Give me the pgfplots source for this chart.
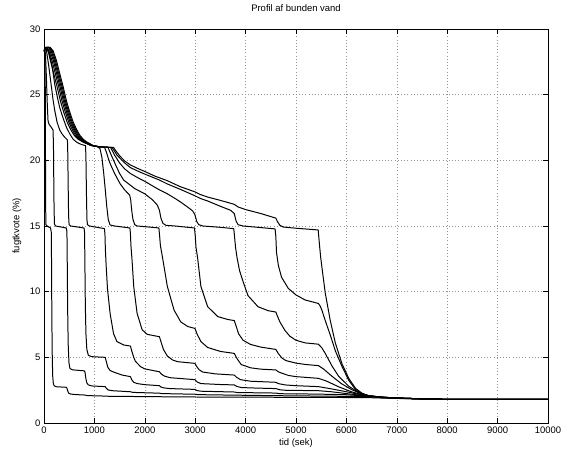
\documentclass[border=0pt]{standalone}
\usepackage{fontspec}
\setmainfont{Liberation Sans}
\usepackage{pgfplots}
\pgfplotsset{compat=1.18}
\pgfplotsset{curve/.style={black, solid, line width=1pt, line join=round, mark=none}}
\begin{document}
\begin{tikzpicture}
\path[use as bounding box] (-44bp,-29bp) rectangle (519bp,423bp);
\begin{axis}[
 at={(0,0)}, anchor=south west,
 scale only axis, width=504bp, height=394bp,
 xmin=0,xmax=10000,ymin=0,ymax=30,
 xtick={0,1000,...,10000}, ytick={0,5,...,30},
 scaled ticks=false,
 /pgf/number format/assume math mode=true,
 /pgf/number format/set thousands separator={},
 tick align=inside, xtick pos=both, ytick pos=both,
 major tick length=5bp,
 grid=major,
 major grid style={line width=0.6pt, gray!85, dash pattern=on 0.8pt off 2.4pt},
 axis line style={line width=0.8pt},
 every tick/.style={black, line width=0.6pt},
 title={Profil af bunden vand},
 title style={at={(axis description cs:0.5,1.038)}, anchor=center, font=\fontsize{9.5}{11}\selectfont},
 xlabel={tid (sek)}, ylabel={fugtkvote (\%)},
 xlabel style={at={(axis description cs:0.5,-0.0508)}, anchor=center, font=\fontsize{9.5}{11}\selectfont},
 ylabel style={at={(axis description cs:-0.0536,0.5)}, anchor=center, font=\fontsize{9.5}{11}\selectfont},
 tick label style={font=\fontsize{9.5}{11}\selectfont},
]
% c0
\addplot[curve] coordinates {(0,28.3)(12,28.5)(20,28.2)(25,25.5)(29,21)(33,16.5)(38,15.1)(60,15.0)(130,14.85)(145,14.5)(150,12)(155,8.5)(162,5.5)(172,3.6)(185,3.0)(205,2.82)(250,2.76)(440,2.72)(455,2.65)(470,2.45)(490,2.27)(530,2.2)(650,2.16)(810,2.13)(850,2.09)(1000,2.07)(1215,2.05)(1300,2.03)(1715,2.02)(2290,2.0)(2995,1.98)(3775,1.97)(4600,1.96)(5445,1.95)(6000,1.94)(6450,1.93)(6700,1.9)(7000,1.87)(7500,1.83)(8000,1.8)(10000,1.8)};
% c1
\addplot[curve] coordinates {(0,28.3)(15,28.5)(30,28.0)(46,26.5)(56,25.3)(66,24.2)(80,23.0)(100,22.75)(147,22.5)(180,22.3)(188,21)(194,18.5)(200,16.2)(208,15.15)(230,15.0)(440,14.85)(455,14.6)(462,12)(470,8.5)(480,6)(495,4.6)(515,4.15)(560,4.05)(800,3.97)(815,3.85)(830,3.4)(850,3.05)(880,2.9)(950,2.82)(1215,2.77)(1235,2.65)(1270,2.52)(1350,2.46)(1715,2.38)(1760,2.33)(2290,2.27)(2340,2.24)(2995,2.19)(3050,2.16)(3775,2.12)(4600,2.08)(5445,2.05)(6000,2.03)(6450,2.0)(6700,1.93)(7000,1.88)(7500,1.83)(8000,1.8)(10000,1.8)};
% c2
\addplot[curve] coordinates {(0,28.3)(20,28.5)(45,28.45)(90,27.3)(147,25.6)(180,24.6)(213,23.8)(260,22.9)(313,22.3)(360,22.0)(413,21.75)(465,21.55)(472,20.5)(480,18)(488,15.8)(498,15.1)(530,15.0)(795,14.85)(805,14.5)(812,12)(820,9)(832,6.8)(850,5.6)(880,5.15)(950,5.05)(1215,5.0)(1235,4.7)(1265,4.25)(1310,4.0)(1380,3.88)(1550,3.65)(1715,3.53)(1740,3.3)(1780,3.1)(1850,3.0)(2000,2.92)(2290,2.84)(2320,2.74)(2380,2.67)(2500,2.62)(2995,2.56)(3030,2.48)(3110,2.42)(3775,2.36)(3830,2.32)(4600,2.28)(4680,2.23)(5445,2.2)(6000,2.15)(6450,2.04)(6700,1.95)(7000,1.89)(7500,1.83)(8000,1.8)(10000,1.8)};
% c3
\addplot[curve] coordinates {(0,28.3)(25,28.55)(60,28.55)(100,28.2)(160,27.2)(213,25.8)(260,24.9)(313,24.0)(380,23.2)(447,22.5)(513,22.0)(580,21.6)(660,21.35)(747,21.2)(825,21.12)(833,20)(842,17.5)(852,15.5)(862,15.1)(900,15.0)(1200,14.8)(1210,14.3)(1218,13.2)(1233,12.0)(1260,10.2)(1313,8.3)(1380,6.8)(1447,6.2)(1580,5.94)(1715,5.86)(1740,5.5)(1780,5.0)(1813,4.7)(1913,4.3)(2000,4.12)(2290,3.9)(2330,3.72)(2390,3.57)(2500,3.45)(2995,3.3)(3040,3.12)(3113,3.0)(3500,2.93)(3775,2.9)(3830,2.78)(3913,2.7)(4200,2.66)(4600,2.62)(4680,2.53)(4800,2.49)(5445,2.46)(5700,2.38)(6000,2.24)(6300,2.1)(6450,2.05)(6700,1.96)(7000,1.9)(7500,1.84)(8000,1.8)(10000,1.8)};
% c4
\addplot[curve] coordinates {(0,28.3)(30,28.6)(60,28.5)(90,28.2)(127,27.6)(193,26.6)(260,25.6)(327,24.5)(393,23.65)(460,22.9)(527,22.35)(600,21.9)(680,21.6)(770,21.4)(920,21.15)(1050,21.05)(1110,20.9)(1150,20.2)(1185,19.0)(1215,17.8)(1245,16.5)(1275,15.5)(1310,15.08)(1400,15.0)(1705,14.85)(1715,14.4)(1725,13.5)(1747,12.4)(1780,10.4)(1847,8.35)(1947,7.1)(2047,6.75)(2290,6.57)(2320,6.2)(2370,5.6)(2447,5.1)(2550,4.8)(2647,4.67)(2995,4.54)(3030,4.3)(3080,4.05)(3150,3.88)(3400,3.74)(3775,3.65)(3820,3.48)(3900,3.3)(4100,3.18)(4600,3.1)(4650,3.0)(4780,2.9)(5000,2.84)(5445,2.77)(5700,2.6)(6000,2.38)(6250,2.18)(6450,2.05)(6700,1.96)(7000,1.9)(7500,1.84)(8000,1.8)(10000,1.8)};
% c5
\addplot[curve] coordinates {(0,28.3)(35,28.6)(70,28.55)(100,28.3)(159,27.6)(225,26.6)(292,25.6)(359,24.5)(425,23.65)(492,22.9)(559,22.35)(625,21.9)(700,21.6)(780,21.4)(940,21.12)(1100,21.03)(1200,21.0)(1240,20.6)(1280,20.1)(1313,19.75)(1400,19.0)(1513,18.2)(1600,17.75)(1700,17.35)(1720,17.0)(1740,16.2)(1765,15.5)(1800,15.1)(1850,15.0)(2280,14.85)(2295,14.2)(2310,13.5)(2347,12.7)(2447,10.4)(2580,8.6)(2713,7.7)(2850,7.35)(2995,7.2)(3040,6.75)(3113,6.2)(3247,5.75)(3500,5.45)(3775,5.3)(3830,4.9)(3913,4.45)(4100,4.2)(4300,4.1)(4600,4.04)(4650,3.9)(4713,3.8)(4850,3.62)(5000,3.53)(5445,3.4)(5600,3.2)(5850,2.75)(6100,2.38)(6300,2.16)(6450,2.06)(6700,1.96)(7000,1.9)(7500,1.84)(8000,1.8)(10000,1.8)};
% c6
\addplot[curve] coordinates {(0,28.3)(40,28.6)(90,28.6)(118,28.35)(185,27.6)(251,26.6)(318,25.6)(385,24.5)(451,23.65)(518,22.9)(585,22.35)(651,21.9)(718,21.6)(790,21.4)(950,21.12)(1100,21.03)(1270,21.0)(1300,20.7)(1380,20.0)(1500,19.0)(1580,18.5)(1715,18.1)(1800,17.85)(2000,17.45)(2150,17.0)(2247,16.6)(2290,16.2)(2320,15.6)(2360,15.2)(2420,15.05)(2600,15.0)(2985,14.85)(3000,14.3)(3015,13.4)(3047,12.6)(3113,10.4)(3247,8.86)(3447,8.1)(3650,7.88)(3775,7.8)(3810,7.4)(3860,6.8)(3950,6.3)(4100,5.98)(4300,5.78)(4600,5.6)(4647,5.3)(4720,4.95)(4800,4.75)(5000,4.56)(5200,4.45)(5445,4.37)(5550,4.1)(5700,3.6)(5900,3.0)(6100,2.55)(6300,2.22)(6450,2.07)(6700,1.97)(7000,1.9)(7500,1.84)(8000,1.8)(10000,1.8)};
% c7
\addplot[curve] coordinates {(0,28.3)(45,28.6)(100,28.6)(140,28.35)(207,27.6)(273,26.6)(340,25.6)(407,24.5)(473,23.65)(540,22.9)(607,22.35)(673,21.9)(740,21.6)(810,21.4)(960,21.12)(1100,21.03)(1320,20.98)(1360,20.7)(1400,20.4)(1500,19.8)(1600,19.35)(1713,19.0)(1850,18.7)(2000,18.4)(2200,17.95)(2290,17.75)(2447,17.45)(2600,17.1)(2700,16.85)(2847,16.45)(2950,16.15)(2995,15.85)(3030,15.35)(3070,15.1)(3150,15.0)(3500,14.9)(3765,14.8)(3780,14.2)(3800,13.4)(3830,12.6)(3880,11.6)(3947,10.8)(4047,9.7)(4247,8.85)(4450,8.55)(4600,8.45)(4625,8.2)(4680,7.7)(4780,7.05)(4880,6.6)(5000,6.3)(5180,6.1)(5445,6.0)(5513,5.72)(5580,5.3)(5713,4.35)(5847,3.55)(6047,2.8)(6247,2.3)(6450,2.07)(6700,1.97)(7000,1.9)(7500,1.84)(8000,1.8)(10000,1.8)};
% c8
\addplot[curve] coordinates {(0,28.3)(50,28.6)(110,28.6)(160,28.35)(227,27.6)(293,26.6)(360,25.6)(427,24.5)(493,23.65)(560,22.9)(627,22.35)(693,21.9)(760,21.6)(830,21.4)(970,21.12)(1100,21.03)(1350,20.98)(1400,20.7)(1447,20.4)(1600,19.8)(1713,19.45)(1850,19.2)(2000,18.95)(2290,18.5)(2447,18.2)(2700,17.8)(2995,17.3)(3100,17.1)(3250,16.9)(3500,16.5)(3700,16.2)(3775,15.95)(3810,15.4)(3850,15.1)(3950,15.0)(4300,14.88)(4585,14.78)(4600,14.2)(4613,13.0)(4650,12.0)(4713,11.1)(4847,10.25)(5000,9.75)(5180,9.37)(5445,9.1)(5480,8.9)(5513,8.6)(5580,7.8)(5680,6.7)(5780,5.5)(5913,4.3)(6047,3.25)(6180,2.55)(6313,2.2)(6450,2.08)(6700,1.97)(7000,1.9)(7500,1.84)(8000,1.8)(10000,1.8)};
% c9
\addplot[curve] coordinates {(0,28.3)(60,28.6)(120,28.6)(180,28.35)(247,27.6)(313,26.6)(380,25.6)(447,24.5)(513,23.65)(580,22.9)(647,22.35)(713,21.9)(780,21.6)(847,21.4)(980,21.12)(1113,21.03)(1250,21.0)(1380,20.98)(1430,20.7)(1500,20.35)(1600,19.95)(1713,19.65)(1850,19.4)(2000,19.15)(2200,18.8)(2447,18.45)(2700,18.0)(2995,17.6)(3100,17.4)(3250,17.2)(3500,16.95)(3775,16.65)(3850,16.45)(4000,16.25)(4300,15.95)(4600,15.6)(4630,15.35)(4680,15.05)(4750,14.92)(5000,14.83)(5200,14.77)(5440,14.7)(5465,13.6)(5490,12.6)(5513,11.9)(5580,9.9)(5680,7.8)(5780,6.1)(5913,4.5)(6047,3.4)(6180,2.64)(6313,2.26)(6447,2.07)(6647,1.97)(7013,1.9)(7500,1.84)(8013,1.8)(10000,1.8)};
\end{axis}
\end{tikzpicture}
\end{document}
